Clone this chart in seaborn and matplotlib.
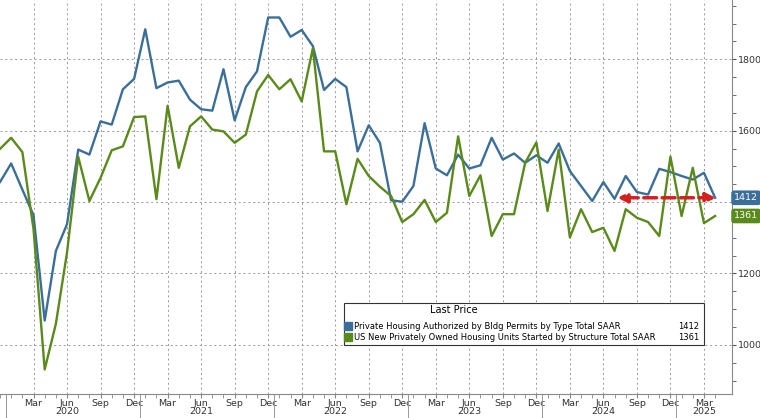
import numpy as np
import pandas as pd
import matplotlib
matplotlib.use("Agg")
import matplotlib.pyplot as plt
import seaborn as sns

months = pd.date_range("2019-12-01", "2025-04-01", freq="MS")
permits = [1456,1508,1435,1363,1068,1263,1338,1547,1533,1626,1617,1716,1745,1884,1719,1735,1740,1687,1660,1656,1772,1629,1722,1766,1917,1917,1863,1882,1837,1714,1745,1722,1542,1615,1566,
           1405,1401,1445,1621,1494,1475,1533,1494,1503,1580,1519,1536,1510,1531,
           1510,1564,1487,1445,1403,1456,1409,1473,1428,1421,1493,1484,
           1473,1463,1482,1412]
starts = [1549,1580,1540,1324,931,1059,1259,1527,1403,1468,1545,1556,1638,1640,1408,1670,1496,1612,1640,1603,1598,1566,1589,1710,1756,1716,1744,1682,1831,1542,1542,1394,1521,1473,1443,
          1417,1344,1366,1406,1344,1370,1584,1417,1475,1305,1366,1366,1510,1567,
          1375,1547,1301,1380,1316,1328,1263,1380,1356,1344,1305,1527,
          1361,1496,1341,1361]
name_p = "Private Housing Authorized by Bldg Permits by Type Total SAAR"
name_s = "US New Privately Owned Housing Units Started by Structure Total SAAR"
BLUE = "#3b6e99"; GREEN = "#5a8a1a"

df = pd.DataFrame({"value": permits+starts,
                   "series": [name_p]*len(months)+[name_s]*len(months)})
idx = np.arange(len(months))
df["x"] = list(idx)*2

fig = plt.figure(figsize=(7.6, 4.18), dpi=100)
ax = fig.add_axes([0.0, 0.058, 0.963, 0.942])
sns.lineplot(data=df, x="x", y="value", hue="series", palette=[BLUE, GREEN],
             linewidth=1.7, ax=ax, legend=False)
ax.set_xlim(0, 65.5)
ax.set_ylim(863, 1966)
ax.yaxis.tick_right()
ax.set_yticks([1000, 1200, 1400, 1600, 1800])
ax.set_yticklabels(["1000", "1200", "", "1600", "1800"], fontsize=6.8, color="#333")
ax.set_yticks(np.arange(900, 1960, 50), minor=True)
ax.tick_params(axis="y", which="both", direction="out", length=3, color="#555", pad=1)
ax.set_ylabel(""); ax.set_xlabel("")
for s in ["top", "left"]:
    ax.spines[s].set_visible(False)
ax.spines["right"].set_color("#888"); ax.spines["bottom"].set_color("#888")

mon_names = {3: "Mar", 6: "Jun", 9: "Sep", 12: "Dec"}
tick_pos, tick_lab = [], []
last_year = months[-1].year
for i, d in enumerate(months):
    if d.month in mon_names and i > 0:
        tick_pos.append(i)
        lab = mon_names[d.month]
        if d.month == 6 or (d.year == last_year and d.month == 3):
            lab += "\n" + str(d.year)
        tick_lab.append(lab)
        ax.axvline(i, color="#999", ls=(0, (2, 3)), lw=0.7, zorder=0)
ax.set_xticks(tick_pos)
ax.set_xticklabels(tick_lab, fontsize=6.8, color="#333", linespacing=0.9)
ax.set_xticks(idx, minor=True)
ax.tick_params(axis="x", which="both", length=3, color="#888", pad=0.5)
for y in [1000, 1200, 1400, 1600, 1800]:
    ax.axhline(y, color="#999", ls=(0, (2, 3)), lw=0.7, zorder=0)
for i, d in enumerate(months):
    if d.month == 1:
        ax.plot([i - 0.5, i - 0.5], [0, -0.06], transform=ax.get_xaxis_transform(),
                color="#999", lw=0.7, clip_on=False)

ax.annotate("", xy=(55, 1412), xytext=(64.3, 1412),
            arrowprops=dict(arrowstyle="<|-|>", color="#d42020", lw=2.5, ls="--",
                            mutation_scale=14))

for v, c in [(1412, BLUE), (1361, GREEN)]:
    ax.text(1.003, (v - 863) / (1966 - 863), str(v), transform=ax.transAxes,
            fontsize=6.8, color="white", va="center", ha="left",
            bbox=dict(boxstyle="round,pad=0.3", fc=c, ec="none"))

lx0 = 0.476
ax.text(0.62, 0.205, "Last Price", transform=ax.transAxes, fontsize=7, ha="center", zorder=6)
for k, (nm, c, v) in enumerate([(name_p, BLUE, 1412), (name_s, GREEN, 1361)]):
    yy = 0.172 - k * 0.028
    ax.scatter([lx0], [yy], marker="s", s=30, color=c, transform=ax.transAxes, clip_on=False, zorder=6)
    ax.text(lx0 + 0.008, yy, nm, transform=ax.transAxes, fontsize=6, va="center", zorder=6)
    ax.text(0.955, yy, str(v), transform=ax.transAxes, fontsize=6, va="center", ha="right", zorder=6)
ax.add_patch(plt.Rectangle((0.470, 0.125), 0.492, 0.105, transform=ax.transAxes,
                           fill=True, fc="white", ec="#333", lw=0.8, zorder=4))

fig.savefig("out.png", dpi=100)
